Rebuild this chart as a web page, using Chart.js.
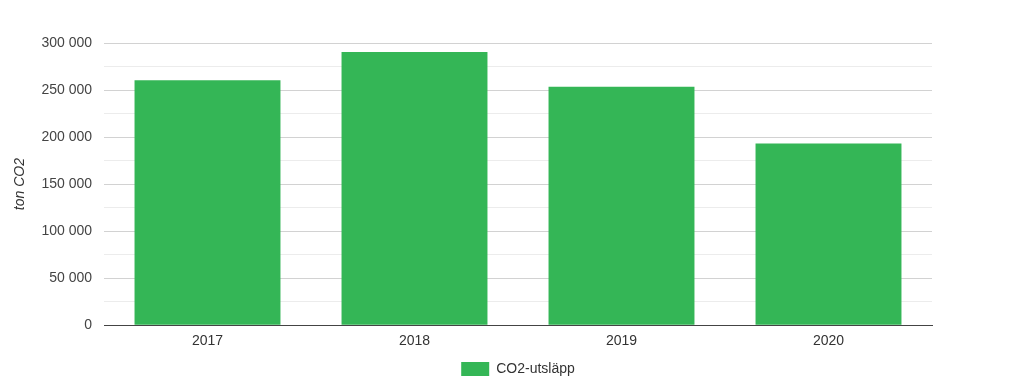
<!DOCTYPE html>
<html>
<head>
<meta charset="utf-8">
<script src="https://cdn.jsdelivr.net/npm/chart.js@4/dist/chart.umd.min.js"></script>
<style>
  html, body { margin: 0; padding: 0; background: #fff; }
  #wrap { width: 1024px; height: 386px; position: relative; }
</style>
</head>
<body>
<div id="wrap"><canvas id="chart"></canvas></div>
<script>
// data
var years = ["2017", "2018", "2019", "2020"];
var utslapp = [260300, 290500, 253600, 193100];
var seriesName = "CO2-utsläpp";
var yTitle = "ton CO2";

var fontFam = 'Arial, "Liberation Sans", sans-serif';

function fmt(v) {
  return String(v).replace(/\B(?=(\d{3})+(?!\d))/g, " ");
}

var ctx = document.getElementById("chart");

var chart = new Chart(ctx, {
  type: 'bar',
  data: {
    labels: years,
    datasets: [{
      label: seriesName,
      data: utslapp,
      backgroundColor: '#34b656',
      borderWidth: 0,
      barPercentage: 0.705,
      categoryPercentage: 1
    }]
  },
  options: {
    responsive: true,
    maintainAspectRatio: false,
    animation: false,
    layout: { padding: { top: 43, right: 0, left: 12, bottom: 0 } },
    plugins: {
      tooltip: { enabled: false },
      legend: {
        position: 'bottom',
        labels: {
          boxWidth: 28,
          boxHeight: 14,
          padding: 4,
          color: '#333',
          font: { family: fontFam, size: 14 }
        }
      }
    },
    scales: {
      x: {
        grid: { display: false, drawTicks: false },
        border: { display: true, color: '#444', width: 1 },
        ticks: {
          color: '#333',
          padding: 8,
          font: { family: fontFam, size: 14 }
        }
      },
      y: {
        min: 0,
        max: 300000,
        afterFit: function (axis) { axis.width = 92; },
        title: {
          display: true,
          text: yTitle,
          color: '#333',
          padding: { top: 0, bottom: 20 },
          font: { family: fontFam, size: 14, style: 'italic' }
        },
        border: { display: false },
        grid: {
          drawTicks: false,
          color: function (c) {
            if (c.tick && c.tick.value === 0) return '#444';
            return c.tick && c.tick.value % 50000 === 0 ? '#d2d2d2' : '#ececec';
          }
        },
        ticks: {
          stepSize: 25000,
          padding: 12,
          color: '#444',
          font: { family: fontFam, size: 14 },
          callback: function (v) {
            return v % 50000 === 0 ? fmt(v) : '';
          }
        }
      },
      // empty right axis only to keep the right margin
      yr: {
        position: 'right',
        display: true,
        min: 0,
        max: 300000,
        afterFit: function (axis) { axis.width = 92; },
        grid: { display: false, drawTicks: false },
        border: { display: false },
        ticks: { display: false }
      }
    }
  }
});
</script>
</body>
</html>
